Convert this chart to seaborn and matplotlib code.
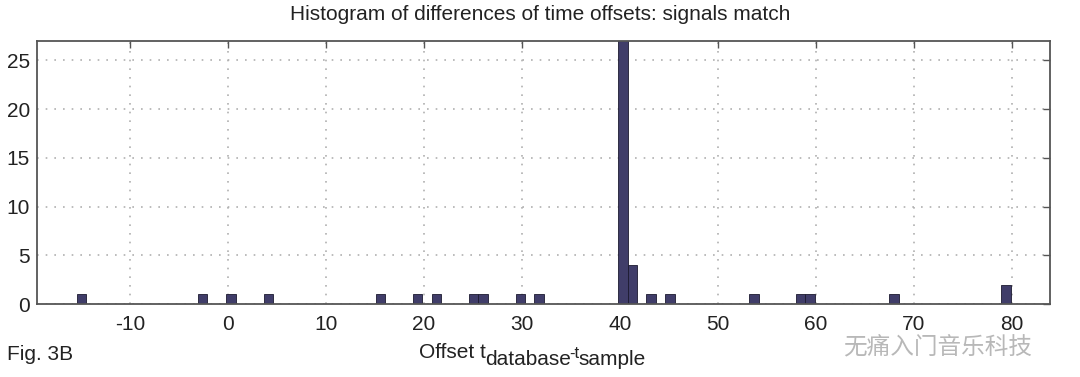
import matplotlib
matplotlib.use("Agg")
import matplotlib.pyplot as plt
import seaborn as sns
import numpy as np
import pandas as pd

# ---- data (bin centres of non-empty bins, counts) ----
offsets = [-14.97, -2.57, 0.29, 4.10, 15.54, 19.36, 21.26, 25.08, 26.03, 29.84,
           31.75, 40.33, 41.29, 43.19, 45.10, 53.68, 58.45, 59.40, 67.98, 79.42]
counts = [1, 1, 1, 1, 1, 1, 1, 1, 1, 1,
          1, 30, 4, 1, 1, 1, 1, 1, 1, 2]
n_bins = 100
x_ticks = [-10, 0, 10, 20, 30, 40, 50, 60, 70, 80]
y_ticks = [0, 5, 10, 15, 20, 25]

title = "Histogram of differences of time offsets: signals match"
xlabel_parts = ["Offset t", "database", "-t", "sample"]
fig_label = "Fig. 3B"
watermark = "无痛入门音乐科技"

df = pd.DataFrame({"offset": offsets, "count": counts})

sns.set_theme(style="white")
plt.rcParams["font.family"] = ["Liberation Sans", "Noto Sans CJK SC", "DejaVu Sans"]

W, H = 1080, 377
fig = plt.figure(figsize=(W / 100, H / 100), dpi=100)
ax = fig.add_axes([37 / W, 1 - 304 / H, (1050 - 37) / W, (304 - 41) / H])

w = (max(offsets) - min(offsets)) / (n_bins - 1)
sns.histplot(data=df, x="offset", weights="count", bins=n_bins,
             binrange=(min(offsets) - w / 2, max(offsets) + w / 2),
             color="#403d69", edgecolor="#1c1a30", linewidth=0.6,
             alpha=1.0, ax=ax)

ax.set_xlim(-19.5, 83.9)
ax.set_ylim(0, 27)
ax.set_xticks(x_ticks)
ax.set_yticks(y_ticks)
ax.set_xticklabels([str(t) for t in x_ticks])
ax.set_yticklabels([str(t) for t in y_ticks])
ax.tick_params(axis="both", direction="in", length=5, width=1.0,
               color="#555555", labelsize=15, labelcolor="#222222",
               top=True, right=True)
ax.tick_params(axis="x", pad=8)
ax.tick_params(axis="y", pad=5)
ax.grid(True, linestyle=(0, (1, 4.2)), color="#b0b0b0", linewidth=1.2)
ax.set_axisbelow(True)
for s in ax.spines.values():
    s.set_visible(True)
    s.set_color("#555555")
    s.set_linewidth(1.3)

ax.set_xlabel("")
ax.set_ylabel("")
fig.text(0.5, 1 - 14 / H, title, ha="center", va="center", fontsize=15, color="#222222")
fig.text(7 / W, 1 - 354 / H, fig_label, ha="left", va="center", fontsize=15, color="#222222")
fig.text(843 / W, 1 - 348 / H, watermark, ha="left", va="center", fontsize=17,
         family=["Noto Sans CJK SC", "DejaVu Sans"], color="#9a9a9a", alpha=0.7)

# x label built from pieces: normal baseline / lowered baseline
fig.canvas.draw()
renderer = fig.canvas.get_renderer()
x_px = 419
base_y = 1 - 358 / H
low_y = 1 - 365 / H
styles = [(15, base_y), (15, low_y), (12, base_y), (15, low_y)]
for part, (fs, yy) in zip(xlabel_parts, styles):
    t = fig.text(x_px / W, yy, part, ha="left", va="baseline", fontsize=fs, color="#222222")
    bb = t.get_window_extent(renderer)
    x_px += bb.width - 1

fig.savefig("out.png", dpi=100)
